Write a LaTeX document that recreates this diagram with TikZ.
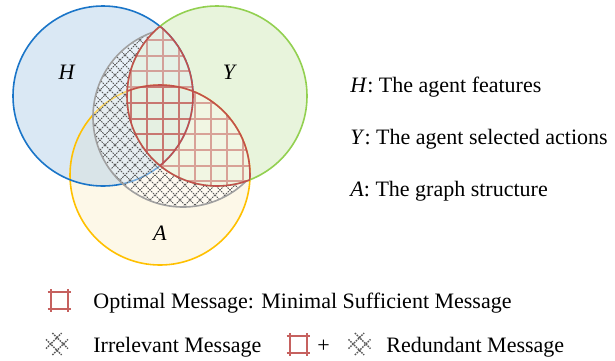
\documentclass[tikz,border=0pt]{standalone}
\usepackage{fontspec}
\setmainfont{Liberation Serif}
\usepackage{tikz}
\definecolor{vnH}{HTML}{1A75C8}
\definecolor{vnY}{HTML}{92D050}
\definecolor{vnA}{HTML}{FFC000}
\definecolor{vnHfill}{HTML}{B5D1E9}
\definecolor{vnYfill}{HTML}{D1E9B9}
\definecolor{vnAfill}{HTML}{FBF1D1}
\definecolor{vnRed}{HTML}{C0504D}
\definecolor{vnGray}{HTML}{A0A0A0}
\definecolor{vnHatch}{HTML}{5A5A5A}
\newcommand{\vennr}{45pt}

\begin{document}
\begin{tikzpicture}[x=0.5pt, y=-0.5pt, font=\fontsize{11}{13}\selectfont,
  setfill/.style={fill opacity=0.5},
  ring/.style={line width=0.8pt},
  hatchline/.style={draw=vnHatch, line width=0.45pt, dash pattern=on 0.8pt off 0.5pt},
  gridline/.style={draw=vnRed, line width=1pt, draw opacity=0.5},
  lensedge/.style={draw=vnRed, line width=0.8pt},
  iconred/.style={draw=vnRed!90!white, line width=1.1pt},
  iconhatch/.style={hatchline, line width=0.7pt},
  keytext/.style={anchor=base west, inner sep=0pt}]
  \useasboundingbox (0,0) rectangle (615,360);
  \coordinate (cH) at (103,96);
  \coordinate (cY) at (217,96);
  \coordinate (cA) at (160,175);
  \coordinate (cG) at (183,117);
  % the three sets
  \fill[vnAfill, setfill] (cA) circle[radius=\vennr];
  \fill[vnHfill, setfill] (cH) circle[radius=\vennr];
  \fill[vnYfill, setfill] (cY) circle[radius=\vennr];
  \draw[ring, vnA] (cA) circle[radius=\vennr];
  \draw[ring, vnH] (cH) circle[radius=\vennr];
  \draw[ring, vnY] (cY) circle[radius=\vennr];
  % irrelevant part
  \begin{scope}[even odd rule]
    \clip (cG) circle[radius=\vennr];
    \clip (-10,-10) rectangle (625,370) (cY) circle[radius=\vennr];
    \fill[white, fill opacity=0.4] (0,0) rectangle (400,300);
    \draw[hatchline] \foreach \k in {-300,-290,...,300} {(\k,0) -- ++(300,300) (\k+300,0) -- ++(-300,300)};
  \end{scope}
  % sufficient part
  \begin{scope}
    \clip (cY) circle[radius=\vennr];
    \clip (cH) circle[radius=\vennr] (cA) circle[radius=\vennr];
    \fill[white, fill opacity=0.4] (0,0) rectangle (400,300);
  \end{scope}
  \foreach \part in {cH,cA} {
    \begin{scope}
      \clip (cY) circle[radius=\vennr];
      \clip (\part) circle[radius=\vennr];
      \draw[gridline] \foreach \gx in {131,147,...,259} {(\gx,0) -- (\gx,300)}
        \foreach \gy in {24.3,40,...,200} {(0,\gy) -- (400,\gy)};
    \end{scope}
  }
  % outlines
  \draw[ring, vnGray] (cG) ++(108.8:\vennr) arc[start angle=108.8, end angle=314.6, radius=\vennr];
  \begin{scope}
    \clip (cY) circle[radius=\vennr];
    \draw[lensedge] (cH) circle[radius=\vennr] (cA) circle[radius=\vennr];
  \end{scope}
  \begin{scope}
    \clip (cH) circle[radius=\vennr] (cA) circle[radius=\vennr];
    \draw[lensedge] (cY) circle[radius=\vennr];
  \end{scope}
  % set names
  \node (labH) at (67,72) {\textit{H}};
  \node (labY) at (230,72) {\textit{Y}};
  \node (labA) at (160,233) {\textit{A}};
  % key
  \node[keytext] (keyH) at (350,92) {\textit{H}: The agent features};
  \node[keytext] (keyY) at (350,144) {\textit{Y}: The agent selected actions};
  \node[keytext] (keyA) at (350,196) {\textit{A}: The graph structure};
  % legend
  \draw[iconred, shift={(59.7,300.5)}] (-8.4,-11.5) -- (-8.4,11.5) (8.4,-11.5) -- (8.4,11.5)
    (-12,-8.3) -- (11.5,-8.3) (-12,8.3) -- (11.5,8.3);
  \draw[iconhatch, shift={(57,344)}, rotate=45] (-4.5,-11) -- (-4.5,11) (4.5,-11) -- (4.5,11)
    (-11,-4.5) -- (11,-4.5) (-11,4.5) -- (11,4.5);
  \draw[iconred, shift={(298.5,344.5)}] (-8.4,-11.5) -- (-8.4,11.5) (8.4,-11.5) -- (8.4,11.5)
    (-12,-8.3) -- (11.5,-8.3) (-12,8.3) -- (11.5,8.3);
  \draw[iconhatch, shift={(359.5,344)}, rotate=45] (-4.5,-11) -- (-4.5,11) (4.5,-11) -- (4.5,11)
    (-11,-4.5) -- (11,-4.5) (-11,4.5) -- (11,4.5);
  \node[keytext] (legOpt) at (93,308) {Optimal Message: Minimal Sufficient Message};
  \node[keytext] (legIrr) at (93,352) {Irrelevant Message};
  \node[keytext] (legPlus) at (317,352) {+};
  \node[keytext] (legRed) at (386,352) {Redundant Message};
\end{tikzpicture}
\end{document}
